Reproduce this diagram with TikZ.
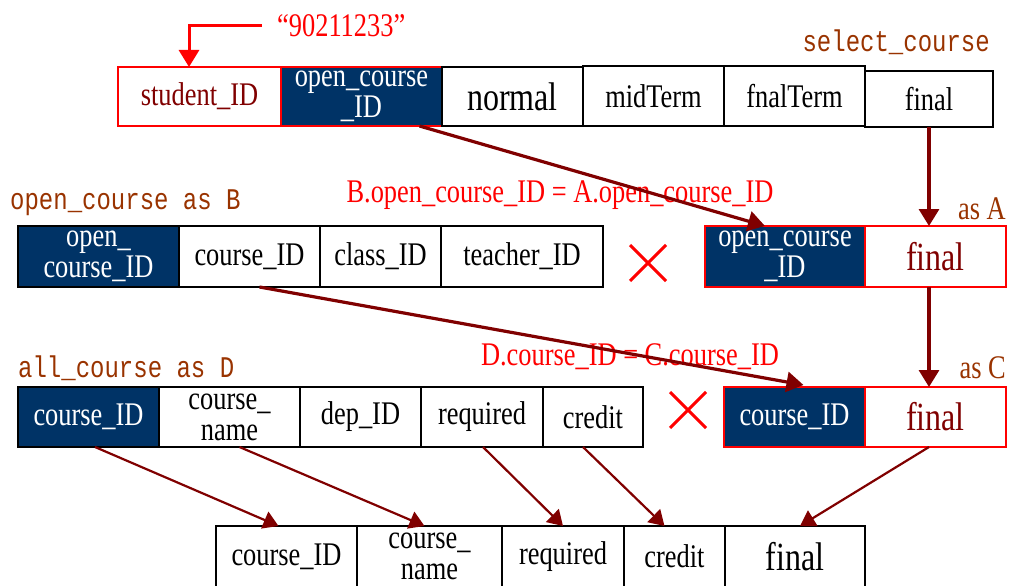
\documentclass[tikz,border=0pt]{standalone}
\usepackage{fontspec}
\setmainfont{Liberation Serif}[FakeStretch=0.8]
\setmonofont{Liberation Mono}[FakeStretch=0.8]
\usetikzlibrary{arrows.meta,calc}
\definecolor{navy}{RGB}{0,51,102}
\definecolor{dred}{RGB}{128,0,0}
\definecolor{lbrown}{RGB}{153,51,0}
\newcommand\cellbox[7]{\node[#6, minimum width={#4-#2}, minimum height={#5-#3}] (#1) at ({(#2+#4)/2},{(#3+#5)/2}) {#7};}
\begin{document}
\begin{tikzpicture}[x=1pt,y=-1pt,
 cell/.style={draw=black,line width=1.1pt,inner sep=0pt,outer sep=0pt,align=center,font=\fontsize{33}{31}\selectfont},
 key/.style={cell,fill=navy,text=white},
 redcell/.style={cell,draw=red},
 big/.style={font=\fontsize{40}{36}\selectfont},
 lbl/.style={text=lbrown,font=\ttfamily\fontsize{30}{30}\selectfont,inner sep=0pt},
 eq/.style={text=red,font=\fontsize{33}{33}\selectfont,inner sep=0pt},
 asl/.style={text=lbrown,font=\fontsize{33}{33}\selectfont,inner sep=0pt,anchor=east},
 link/.style={draw=dred,line width=3.2pt,-{Triangle[length=17pt,width=20pt]}},
 thinlink/.style={draw=dred,line width=2.2pt,-{Triangle[length=15pt,width=18pt]}},
 cross/.style={draw=red,line width=3pt}]
\useasboundingbox (0,0) rectangle (1010,586);
% select_course row
\cellbox{s1}{118}{67}{281}{126}{redcell,text=dred}{student\_ID}
\cellbox{s2}{281}{67}{442}{126}{key,draw=red}{open\_course\\\_ID}
\cellbox{s3}{442}{67}{583}{126}{cell,big}{normal}
\cellbox{s4}{583}{66}{724}{126}{cell}{midTerm}
\cellbox{s5}{724}{66}{865}{126}{cell}{fnalTerm}
\cellbox{s6}{865}{71}{993}{127}{cell}{final}
\node[lbl,anchor=east] (lsel) at (990,42) {select\_course};
\node[eq,anchor=west,inner xsep=15pt] (num) at (262,26) {“90211233”};
% open_course as B
\cellbox{b1}{18}{226}{179}{287}{key}{open\_\\course\_ID}
\cellbox{b2}{179}{226}{320}{287}{cell}{course\_ID}
\cellbox{b3}{320}{226}{441}{287}{cell}{class\_ID}
\cellbox{b4}{441}{226}{603}{287}{cell}{teacher\_ID}
\node[lbl,anchor=west] (lB) at (10,203) {open\_course as B};
% A
\cellbox{a1}{705}{226}{865}{287}{key,draw=red}{open\_course\\\_ID}
\cellbox{a2}{865}{226}{1006}{287}{redcell,big,text=dred}{final}
\node[asl] (lA) at (1006,209) {as A};
\node[eq] (eq1) at (560,195) {B.open\_course\_ID = A.open\_course\_ID};
% all_course as D
\cellbox{d1}{18}{387}{159}{447}{key}{course\_ID}
\cellbox{d2}{159}{387}{300}{447}{cell}{course\_\\name}
\cellbox{d3}{300}{387}{421}{447}{cell}{dep\_ID}
\cellbox{d4}{421}{387}{543}{447}{cell}{required}
\cellbox{d5}{543}{387}{643}{447}{cell}{credit}
\node[lbl,anchor=west] (lD) at (18,368) {all\_course as D};
% C
\cellbox{c1}{724}{387}{865}{447}{key,draw=red}{course\_ID}
\cellbox{c2}{865}{387}{1006}{447}{redcell,big,text=dred}{final}
\node[asl] (lC) at (1006,368) {as C};
\node[eq] (eq2) at (630,357) {D.course\_ID = C.course\_ID};
% result
\cellbox{e1}{216}{526}{357}{587}{cell}{course\_ID}
\cellbox{e2}{357}{526}{502}{587}{cell}{course\_\\name}
\cellbox{e3}{502}{526}{624}{587}{cell}{required}
\cellbox{e4}{624}{526}{725}{587}{cell}{credit}
\cellbox{e5}{725}{526}{865}{587}{cell,big}{final}
% crosses
\draw[cross] (630,245) -- (666,281) (630,281) -- (666,245);
\draw[cross] (670,392) -- (706,428) (670,428) -- (706,392);
% arrows
\coordinate (t1) at (189,67);
\draw[draw=red,line width=3pt,-{Triangle[length=17pt,width=20pt]}] (num.west) -| (t1);
\draw[link] ($(s2.south)+(58,0)$) -- ($(a1.north)+(-20,0)$);
\coordinate (v1) at (s6.south |- a2.north);
\coordinate (v2) at (s6.south |- a2.south);
\coordinate (v3) at (s6.south |- c2.north);
\draw[link] (s6.south) -- (v1);
\draw[link] (v2) -- (v3);
\draw[link] ($(b2.south)+(10,0)$) -- ($(c1.north)+(9,-2)$);
\draw[thinlink] ($(d1.south)+(6.5,0)$) -- ($(e1.north)+(-8,0)$);
\draw[thinlink] ($(d2.south)+(10,0)$) -- ($(e2.north)+(-5,0)$);
\draw[thinlink] ($(d4.south)+(1,0)$) -- (e3.north);
\draw[thinlink] ($(d5.south)+(-10,0)$) -- ($(e4.north)+(-10,0)$);
\draw[thinlink] (v3 |- c2.south) -- ($(e5.north)+(5,0)$);
\end{tikzpicture}
\end{document}
